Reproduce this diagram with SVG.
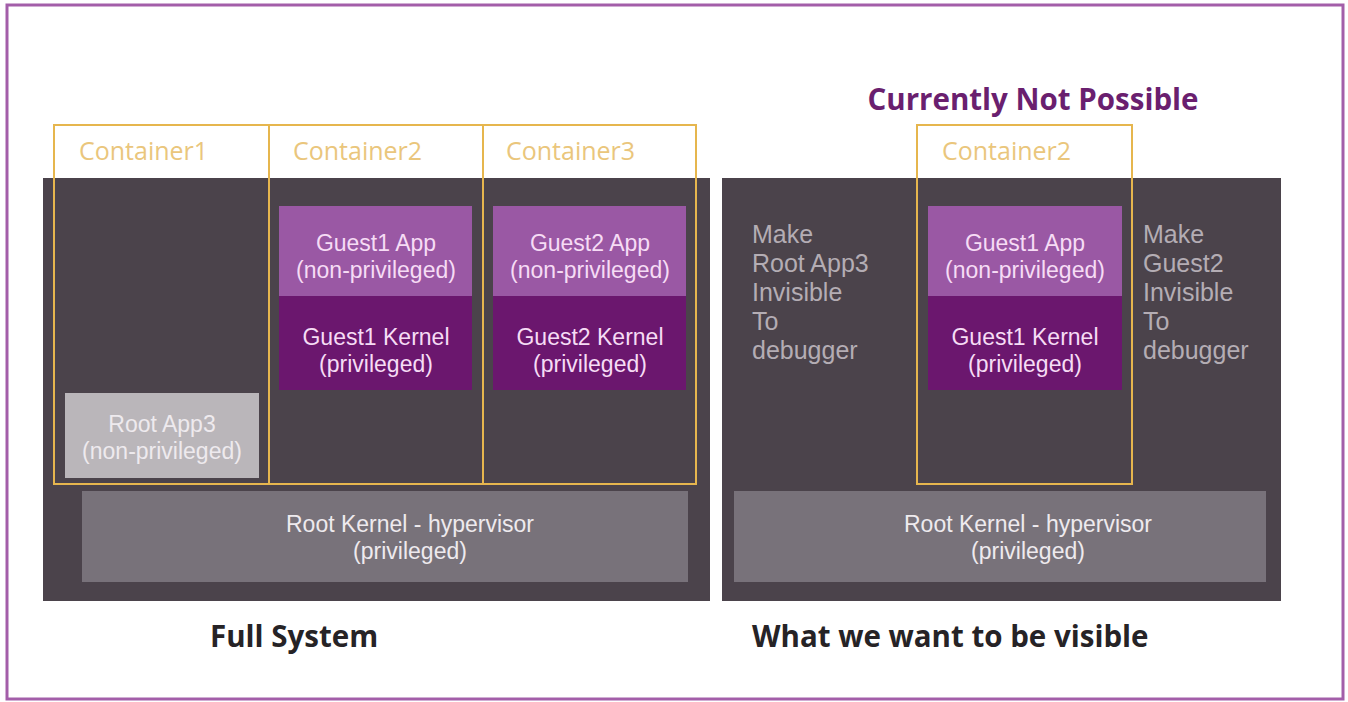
<svg xmlns="http://www.w3.org/2000/svg" width="1348" height="702" viewBox="0 0 1348 702">
  <style>
    .panel { fill: #4b434b; }
    .frame { fill: none; stroke: #e6b64e; stroke-width: 2; }
    .clabel { font-family: "Open Sans", "Noto Sans", sans-serif; font-size: 25px; fill: #eac67c; }
    .box { font-family: "Liberation Sans", Arial, sans-serif; font-size: 23px; text-anchor: middle; }
    .app { fill: #9a58a4; }
    .kern { fill: #6b176e; }
    .gtext { fill: #f6dcf5; }
    .root-app { fill: #bab6ba; }
    .root-kern { fill: #78727a; }
    .rtext { fill: #eeeaee; }
    .note { font-family: "Liberation Sans", Arial, sans-serif; font-size: 25px; fill: #b4adb4; }
    .caption { font-family: "Open Sans", "Noto Sans", sans-serif; font-size: 29.5px; font-weight: bold; fill: #262326; }
  </style>

  <rect x="0" y="0" width="1348" height="702" fill="#ffffff"/>
  <rect id="border" x="7" y="5" width="1336" height="694" fill="none" stroke="#a35ea9" stroke-width="3"/>

  <!-- Full system -->
  <g id="full-system">
    <rect class="panel" x="43" y="178" width="667" height="423"/>
  </g>
  <g id="root-app3">
    <rect class="root-app" x="65" y="393" width="194" height="85"/>
    <text class="box rtext" x="162" y="432">Root App3<tspan x="162" dy="27">(non-privileged)</tspan></text>
  </g>
  <g id="guest1-app">
    <rect class="app" x="279" y="206" width="193" height="90"/>
    <text class="box gtext" x="376" y="251">Guest1 App<tspan x="376" dy="27">(non-privileged)</tspan></text>
  </g>
  <g id="guest1-kernel">
    <rect class="kern" x="279" y="296" width="193" height="94"/>
    <text class="box gtext" x="376" y="345">Guest1 Kernel<tspan x="376" dy="27">(privileged)</tspan></text>
  </g>
  <g id="guest2-app">
    <rect class="app" x="493" y="206" width="193" height="90"/>
    <text class="box gtext" x="590" y="251">Guest2 App<tspan x="590" dy="27">(non-privileged)</tspan></text>
  </g>
  <g id="guest2-kernel">
    <rect class="kern" x="493" y="296" width="193" height="94"/>
    <text class="box gtext" x="590" y="345">Guest2 Kernel<tspan x="590" dy="27">(privileged)</tspan></text>
  </g>
  <g id="root-kernel">
    <rect class="root-kern" x="82" y="491" width="606" height="91"/>
    <text class="box rtext" x="410" y="532">Root Kernel - hypervisor<tspan x="410" dy="27">(privileged)</tspan></text>
  </g>
  <g id="containers">
    <rect class="frame" x="54" y="125" width="642" height="359"/>
    <line class="frame" x1="269" y1="125" x2="269" y2="484"/>
    <line class="frame" x1="483" y1="125" x2="483" y2="484"/>
    <text class="clabel" x="79" y="160">Container1</text>
    <text class="clabel" x="293" y="160">Container2</text>
    <text class="clabel" x="506" y="160">Container3</text>
  </g>
  <text class="caption" x="210" y="647">Full System</text>

  <!-- Visible subset -->
  <text x="1033" y="110" text-anchor="middle" font-family="Open Sans, Noto Sans, sans-serif" font-size="29.5" font-weight="bold" fill="#6a1f6f">Currently Not Possible</text>
  <g id="visible-system">
    <rect class="panel" x="722" y="178" width="559" height="423"/>
  </g>
  <g id="note-root-app3">
    <text class="note" x="752" y="243">Make<tspan x="752" dy="29">Root App3</tspan><tspan x="752" dy="29">Invisible</tspan><tspan x="752" dy="29">To</tspan><tspan x="752" dy="29">debugger</tspan></text>
  </g>
  <g id="visible-guest1-app">
    <rect class="app" x="928" y="206" width="194" height="90"/>
    <text class="box gtext" x="1025" y="251">Guest1 App<tspan x="1025" dy="27">(non-privileged)</tspan></text>
  </g>
  <g id="visible-guest1-kernel">
    <rect class="kern" x="928" y="296" width="194" height="94"/>
    <text class="box gtext" x="1025" y="345">Guest1 Kernel<tspan x="1025" dy="27">(privileged)</tspan></text>
  </g>
  <g id="note-guest2">
    <text class="note" x="1143" y="243">Make<tspan x="1143" dy="29">Guest2</tspan><tspan x="1143" dy="29">Invisible</tspan><tspan x="1143" dy="29">To</tspan><tspan x="1143" dy="29">debugger</tspan></text>
  </g>
  <g id="visible-root-kernel">
    <rect class="root-kern" x="734" y="491" width="532" height="91"/>
    <text class="box rtext" x="1028" y="532">Root Kernel - hypervisor<tspan x="1028" dy="27">(privileged)</tspan></text>
  </g>
  <g id="visible-container">
    <rect class="frame" x="917" y="125" width="215" height="359"/>
    <text class="clabel" x="942" y="160">Container2</text>
  </g>
  <text class="caption" x="752" y="647">What we want to be visible</text>

  <g id="connectors"/>
</svg>
